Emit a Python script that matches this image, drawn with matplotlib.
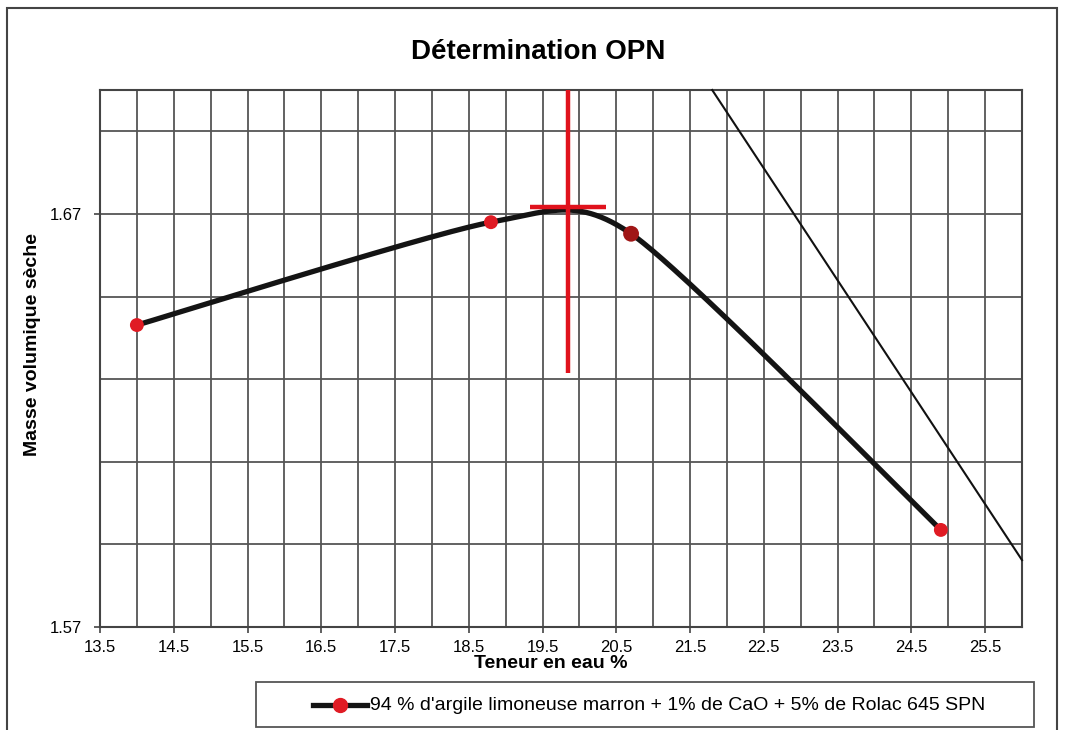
import numpy as np
import matplotlib
matplotlib.use("Agg")
import matplotlib.pyplot as plt
from matplotlib.lines import Line2D
from matplotlib.patches import Rectangle

# Proctor test results
teneur_eau = [14.0, 18.8, 20.7, 24.9]
masse_vol = [1.6431, 1.6680, 1.6652, 1.5935]
serie_label = "94 % d'argile limoneuse marron + 1% de CaO + 5% de Rolac 645 SPN"

# Optimum marker (water content, density) and its cross extents
opn_x = 19.85
opn_y = 1.6717
opn_cross_x = [19.33, 20.36]
opn_vline_y = [1.6315, 1.70]

# Saturation line end points
sat_x = [21.8, 26.0]
sat_y = [1.70, 1.5862]

x_ticks = [13.5, 14.5, 15.5, 16.5, 17.5, 18.5, 19.5, 20.5, 21.5, 22.5, 23.5, 24.5, 25.5]
y_ticks = [1.57, 1.67]

FONT = "Liberation Sans"


def smooth_curve(xs, ys, k=0.12, n=80):
    """Bezier smoothing through the points, tangents from neighbouring points."""
    P = np.column_stack([xs, ys]).astype(float)
    out = [P[0]]
    for i in range(len(P) - 1):
        p0 = P[i - 1] if i > 0 else P[i]
        p1, p2 = P[i], P[i + 1]
        p3 = P[i + 2] if i + 2 < len(P) else P[i + 1]
        c1 = p1 + (p2 - p0) * k
        c2 = p2 - (p3 - p1) * k
        t = np.linspace(0, 1, n)[1:, None]
        seg = ((1 - t) ** 3) * p1 + 3 * ((1 - t) ** 2) * t * c1 + 3 * (1 - t) * t ** 2 * c2 + t ** 3 * p2
        out.extend(seg)
    out = np.array(out)
    return out[:, 0], out[:, 1]


W, H = 1065, 730
fig = plt.figure(figsize=(W / 100, H / 100), dpi=100)
fig.patch.set_facecolor("white")

ax = fig.add_axes([100 / W, 1 - 627 / H, (1022 - 100) / W, (627 - 90) / H])
ax.set_xlim(13.5, 26.0)
ax.set_ylim(1.57, 1.70)

# grid
grid_col = "#555555"
for gx in np.arange(14.0, 26.0, 0.5):
    ax.axvline(gx, color=grid_col, lw=1.3, zorder=1)
for gy in np.arange(1.59, 1.70, 0.02):
    ax.axhline(gy, color=grid_col, lw=1.3, zorder=1)
for s in ax.spines.values():
    s.set_color("#444444")
    s.set_linewidth(1.5)

ax.set_xticks(x_ticks)
ax.set_xticklabels([f"{v:.1f}" for v in x_ticks])
ax.set_yticks(y_ticks)
ax.set_yticklabels([f"{v:.2f}" for v in y_ticks])
ax.tick_params(axis="both", direction="out", length=4, width=1.2, color="#444444",
               labelsize=12)
ax.tick_params(axis="x", pad=5)
ax.tick_params(axis="y", pad=9)
for lab in ax.get_xticklabels() + ax.get_yticklabels():
    lab.set_family(FONT)

# smoothed curve with markers
sx, sy = smooth_curve(teneur_eau, masse_vol)
ax.plot(sx, sy, color="#141414", lw=3.8, solid_capstyle="round", zorder=3)
marker_cols = ["#e01b24", "#e01b24", "#a01616", "#e01b24"]
ax.scatter(teneur_eau, masse_vol, s=[100, 100, 130, 100], c=marker_cols, zorder=4,
           linewidths=0)

# saturation line
ax.plot(sat_x, sat_y, color="#111111", lw=1.5, zorder=3, clip_on=False)

# optimum cross
ax.plot([opn_x, opn_x], opn_vline_y, color="#e0121c", lw=3.2, zorder=5, solid_capstyle="butt")
ax.plot(opn_cross_x, [opn_y, opn_y], color="#e0121c", lw=3.2, zorder=5, solid_capstyle="butt")

fig.text(538 / W, 1 - 52 / H, "Détermination OPN", ha="center", va="center",
         fontsize=20, fontweight="bold", family=FONT)
fig.text(551 / W, 1 - 655 / H, "Teneur en eau %", ha="center", va="top",
         fontsize=14, fontweight="bold", family=FONT)
fig.text(33 / W, 1 - 345 / H, "Masse volumique sèche", ha="center", va="center",
         rotation=90, fontsize=14, fontweight="bold", family=FONT)

# legend box
fig.patches.append(Rectangle((256 / W, 1 - 727 / H), (1034 - 256) / W, 45 / H,
                             transform=fig.transFigure, fill=False, ec="#555555", lw=1.3))
yl = 1 - 705 / H
fig.lines.append(Line2D([313 / W, 367 / W], [yl, yl], transform=fig.transFigure,
                        color="#141414", lw=3.8))
fig.lines.append(Line2D([340 / W], [yl], transform=fig.transFigure, marker="o",
                        color="#e01b24", ms=10, lw=0))
fig.text(370 / W, yl, serie_label, ha="left", va="center", fontsize=14, family=FONT)

# outer frame
fig.patches.append(Rectangle((7 / W, -0.05), (1057 - 7) / W, 1 - 8 / H + 0.05,
                             transform=fig.transFigure, fill=False, ec="#444444", lw=1.5))

fig.savefig("out.png", dpi=100)
